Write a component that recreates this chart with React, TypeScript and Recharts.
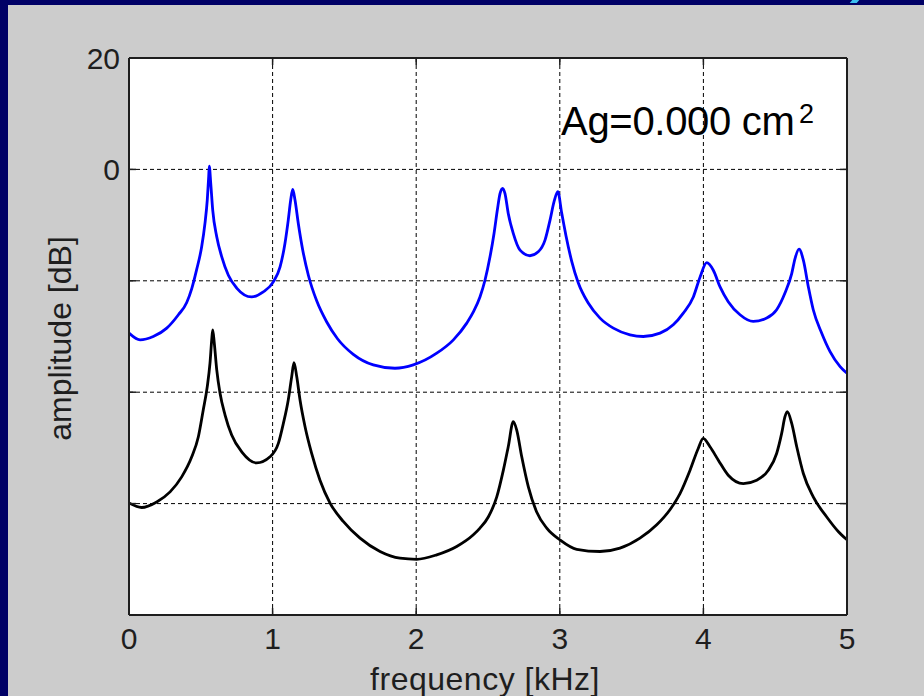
import React from 'react';
import { LineChart, Line, XAxis, YAxis, CartesianGrid, Label } from 'recharts';

// Frequency response of the vocal tract model (two conditions)
const blueFreq = [
  0, 0.077, 0.169, 0.263, 0.344, 0.402, 0.437, 0.471, 0.506, 0.529, 0.545, 0.555, 0.559,
  0.569, 0.583, 0.611, 0.646, 0.692, 0.75, 0.854, 0.935, 1.005, 1.052, 1.086, 1.109, 1.126,
  1.14, 1.156, 1.179, 1.21, 1.249, 1.307, 1.377, 1.452, 1.562, 1.701, 1.852, 1.98, 2.143,
  2.259, 2.352, 2.398, 2.444, 2.479, 2.514, 2.542, 2.565, 2.584, 2.602, 2.618, 2.641, 2.676,
  2.723, 2.792, 2.85, 2.897, 2.932, 2.96, 2.986, 3.013, 3.043, 3.083, 3.129, 3.198, 3.28,
  3.373, 3.489, 3.581, 3.698, 3.79, 3.86, 3.93, 3.977, 4.023, 4.069, 4.116, 4.173, 4.255,
  4.347, 4.441, 4.51, 4.568, 4.615, 4.638, 4.666, 4.696, 4.731, 4.765, 4.824, 4.882, 4.952, 5.0,
];
const blueDb = [
  -29.4, -30.6, -30.0, -28.5, -26.1, -23.9, -21.4, -18.0, -13.9, -9.7, -5.5, -1.3, 0.6,
  -2.4, -7.3, -12.1, -15.7, -19.0, -21.3, -22.9, -22.0, -20.2, -17.5, -13.3, -9.1, -5.5,
  -3.6, -5.5, -9.7, -14.5, -19.0, -23.6, -27.4, -30.4, -33.2, -35.1, -35.7, -35.1, -33.0,
  -30.6, -27.6, -25.6, -22.9, -19.9, -15.7, -11.5, -7.3, -4.3, -3.4, -4.3, -7.9, -11.5,
  -14.5, -15.5, -14.8, -12.7, -9.1, -5.8, -4.0, -7.8, -11.9, -16.5, -20.4, -24.0, -26.7,
  -28.5, -29.7, -30.0, -29.4, -27.9, -25.8, -22.9, -19.3, -16.75, -18.1, -21.1, -23.75, -26.1,
  -27.3, -26.7, -25.2, -22.2, -18.7, -16.0, -14.3, -16.3, -21.1, -25.2, -29.4, -32.7, -35.4, -36.6,
];

const blackFreq = [
  0, 0.088, 0.193, 0.286, 0.367, 0.437, 0.483, 0.517, 0.545, 0.564, 0.576, 0.583, 0.594,
  0.611, 0.634, 0.669, 0.715, 0.785, 0.889, 0.982, 1.04, 1.075, 1.109, 1.133, 1.149, 1.168,
  1.191, 1.226, 1.272, 1.33, 1.4, 1.492, 1.609, 1.748, 1.887, 2.003, 2.143, 2.282, 2.398,
  2.444, 2.502, 2.561, 2.607, 2.641, 2.676, 2.7, 2.735, 2.781, 2.839, 2.909, 3.001, 3.118,
  3.28, 3.419, 3.558, 3.675, 3.767, 3.837, 3.907, 3.964, 3.999, 4.046, 4.104, 4.173, 4.278,
  4.371, 4.452, 4.51, 4.545, 4.568, 4.584, 4.615, 4.65, 4.696, 4.765, 4.859, 4.939, 5.0,
];
const blackDb = [
  -59.9, -60.7, -59.7, -57.9, -55.2, -51.6, -48.0, -43.2, -39.0, -34.8, -30.6, -28.8, -31.2,
  -36.0, -40.2, -44.1, -47.7, -50.7, -52.7, -51.6, -49.2, -45.6, -41.4, -37.2, -34.7, -37.2,
  -41.4, -46.2, -51.0, -55.8, -59.9, -63.2, -66.2, -68.6, -69.8, -70.0, -69.2, -67.7, -65.6,
  -64.4, -62.4, -58.8, -54.0, -49.8, -45.3, -46.8, -51.6, -57.0, -61.5, -64.4, -66.5, -68.2,
  -68.6, -68.0, -66.2, -63.8, -61.1, -58.2, -54.0, -50.1, -48.3, -49.8, -52.2, -54.9, -56.4,
  -55.8, -54.0, -51.0, -47.4, -44.4, -43.5, -45.6, -49.8, -54.6, -58.8, -62.4, -65.0, -66.5,
];

const xTicks = [0, 1, 2, 3, 4, 5];
const yTicks = [-80, -60, -40, -20, 0, 20];
const yTickLabels = ['', '', '', '', '0', '20'];

const blueData = blueFreq.map((f, i) => ({ f, db: blueDb[i] }));
const blackData = blackFreq.map((f, i) => ({ f, db: blackDb[i] }));

const FONT = '"Liberation Sans", Arial, sans-serif';
const INK = '#1e1e1e';
const TICK_LEN = 7;

function BottomTick(props: any) {
  const { x, y, payload } = props;
  return (
    <g>
      <line x1={x} y1={y} x2={x} y2={y - TICK_LEN} stroke={INK} strokeWidth={1.5} />
      <text x={x} y={y + 34} textAnchor="middle" fontSize={30} fontFamily={FONT} fill={INK}>
        {payload.value}
      </text>
    </g>
  );
}

function TopTick(props: any) {
  const { x, y } = props;
  return <line x1={x} y1={y} x2={x} y2={y + TICK_LEN} stroke={INK} strokeWidth={1.5} />;
}

function LeftTick(props: any) {
  const { x, y, payload } = props;
  const idx = yTicks.indexOf(payload.value);
  const label = idx >= 0 ? yTickLabels[idx] : '';
  return (
    <g>
      <line x1={x} y1={y} x2={x + TICK_LEN} y2={y} stroke={INK} strokeWidth={1.5} />
      <text x={x - 9} y={y} dy="0.36em" textAnchor="end" fontSize={30} fontFamily={FONT} fill={INK}>
        {label}
      </text>
    </g>
  );
}

function RightTick(props: any) {
  const { x, y } = props;
  return <line x1={x} y1={y} x2={x - TICK_LEN} y2={y} stroke={INK} strokeWidth={1.5} />;
}

function XTitle(props: any) {
  const { viewBox } = props;
  const cx = viewBox.x + viewBox.width / 2 - 3;
  const by = viewBox.y + viewBox.height - 6;
  return (
    <text x={cx} y={by} textAnchor="middle" fontSize={32} fontFamily={FONT} fill={INK} letterSpacing={0.5}>
      frequency [kHz]
    </text>
  );
}

function YTitle(props: any) {
  const { viewBox } = props;
  const bx = viewBox.x + 71;
  const cy = viewBox.y + viewBox.height / 2 + 2;
  return (
    <text
      x={bx}
      y={cy}
      transform={`rotate(-90 ${bx} ${cy})`}
      textAnchor="middle"
      fontSize={32}
      fontFamily={FONT}
      fill={INK}
    >
      amplitude [dB]
    </text>
  );
}

export default function App() {
  return (
    <div
      style={{
        position: 'fixed',
        left: 0,
        top: 0,
        width: 924,
        height: 696,
        background: '#000066',
        overflow: 'hidden',
      }}
    >
      <div
        style={{
          position: 'absolute',
          left: 851,
          top: 0,
          width: 7,
          height: 3,
          background: '#3cc0f0',
          transform: 'skewX(-40deg)',
        }}
      />
      <div
        style={{
          position: 'absolute',
          left: 8,
          top: 5,
          width: 916,
          height: 691,
          background: '#cccccc',
        }}
      />
      <div style={{ position: 'absolute', left: 0, top: 0 }}>
        <LineChart width={924} height={696} margin={{ top: 0, right: 0, bottom: 0, left: 0 }}>
          <CartesianGrid
            stroke="#000"
            strokeWidth={1}
            strokeDasharray="4 3"
            fill="#ffffff"
            fillOpacity={1}
          />
          <XAxis
            dataKey="f"
            type="number"
            domain={[0, 5]}
            ticks={xTicks}
            height={81}
            tickSize={0}
            tickMargin={0}
            tickLine={false}
            tick={<BottomTick />}
            axisLine={{ stroke: INK, strokeWidth: 2 }}
            interval={0}
            allowDataOverflow
            label={<Label content={<XTitle />} />}
          />
          <XAxis
            xAxisId="top"
            orientation="top"
            dataKey="f"
            type="number"
            domain={[0, 5]}
            ticks={xTicks}
            height={58}
            tickSize={0}
            tickMargin={0}
            tickLine={false}
            tick={<TopTick />}
            axisLine={{ stroke: INK, strokeWidth: 2 }}
            interval={0}
            allowDataOverflow
          />
          <YAxis
            type="number"
            domain={[-80, 20]}
            ticks={yTicks}
            width={129}
            tickSize={0}
            tickMargin={0}
            tickLine={false}
            tick={<LeftTick />}
            axisLine={{ stroke: INK, strokeWidth: 2 }}
            interval={0}
            allowDataOverflow
            label={<Label content={<YTitle />} />}
          />
          <YAxis
            yAxisId="right"
            orientation="right"
            type="number"
            domain={[-80, 20]}
            ticks={yTicks}
            width={77}
            tickSize={0}
            tickMargin={0}
            tickLine={false}
            tick={<RightTick />}
            axisLine={{ stroke: INK, strokeWidth: 2 }}
            interval={0}
            allowDataOverflow
          />
          <Line
            data={blueData}
            dataKey="db"
            type="monotone"
            stroke="#0000ff"
            strokeWidth={2.8}
            dot={false}
            activeDot={false}
            isAnimationActive={false}
          />
          <Line
            data={blackData}
            dataKey="db"
            type="monotone"
            stroke="#000000"
            strokeWidth={2.8}
            dot={false}
            activeDot={false}
            isAnimationActive={false}
          />
        </LineChart>
      </div>
      <svg
        width={924}
        height={696}
        style={{ position: 'absolute', left: 0, top: 0, pointerEvents: 'none' }}
      >
        <text x={561} y={135} fontSize={40} fontFamily={FONT} fill="#000" letterSpacing={-0.3}>
          Ag=0.000 cm
        </text>
        <text x={799} y={123} fontSize={27} fontFamily={FONT} fill="#000">
          2
        </text>
      </svg>
    </div>
  );
}
